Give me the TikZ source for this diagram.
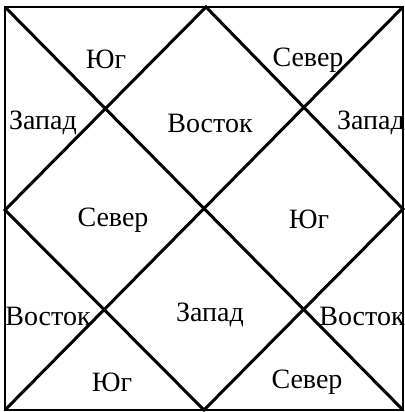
\documentclass[tikz,border=0pt]{standalone}
\usepackage{fontspec}
\setmainfont{Liberation Serif}

\begin{document}
\begin{tikzpicture}[x=.5pt,y=-.5pt,
  lbl/.style={font=\fontsize{14}{16}\selectfont,inner sep=0pt},
  heavy/.style={line width=1.5pt}]
\useasboundingbox (0,0) rectangle (405,412);
\coordinate (tl) at (5,7);
\coordinate (tr) at (403,7);
\coordinate (br) at (403,410);
\coordinate (bl) at (5,410);
\coordinate (tm) at (206,7);
\coordinate (rm) at (403,209);
\coordinate (bm) at (204,410);
\coordinate (lm) at (5,210);
\draw[line width=1pt] (tl)--(tr)--(br)--(bl)--cycle;
\draw[heavy] (tl)--(br);
\draw[heavy] (tr)--(bl);
\draw[heavy] (tm)--(rm)--(bm)--(lm)--cycle;
% houses
\node[lbl] (h12) at (106,59) {Юг};
\node[lbl] (h2) at (308,60) {Север};
\node[lbl] (h11) at (43,123) {Запад};
\node[lbl] (h1) at (210,123) {Восток};
\node[lbl] (h3) at (371,123) {Запад};
\node[lbl] (h10) at (113,220) {Север};
\node[lbl] (h4) at (309,219) {Юг};
\node[lbl] (h9) at (48,316) {Восток};
\node[lbl] (h7) at (210,315) {Запад};
\node[lbl] (h5) at (362,316) {Восток};
\node[lbl] (h8) at (112,382) {Юг};
\node[lbl] (h6) at (307,382) {Север};
\end{tikzpicture}
\end{document}
